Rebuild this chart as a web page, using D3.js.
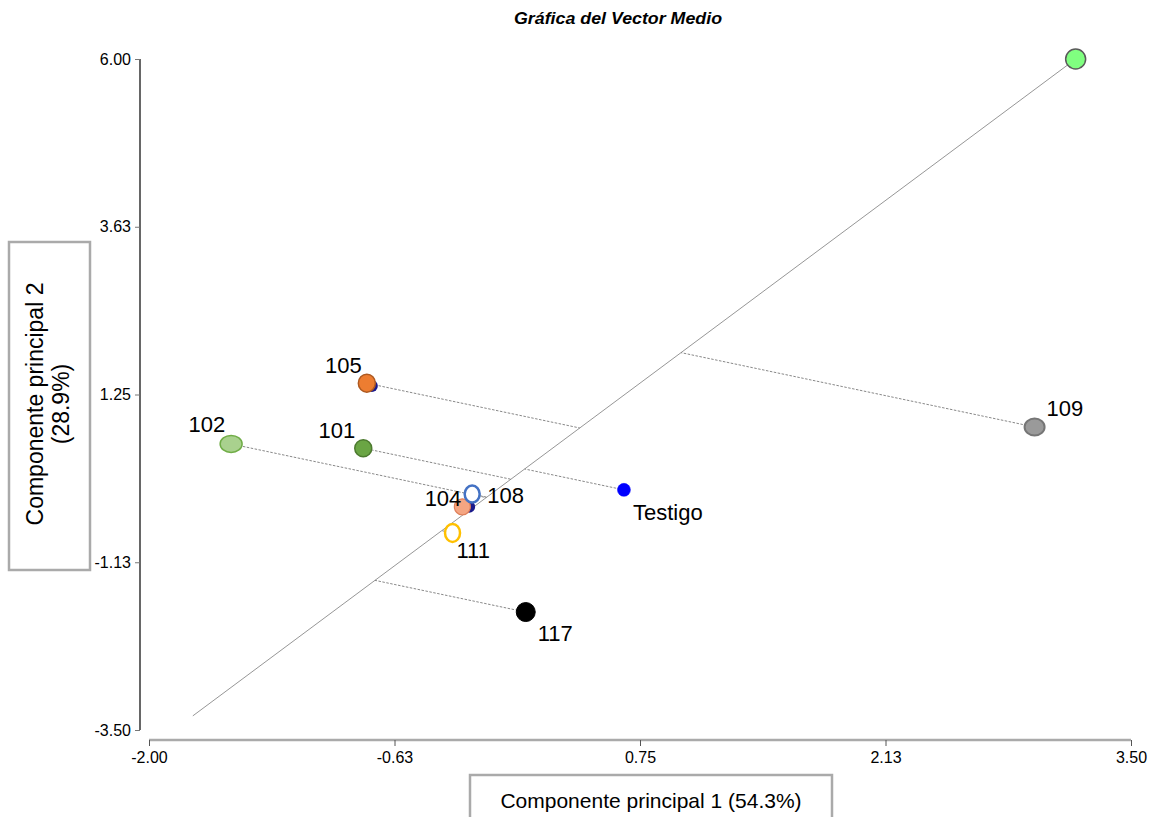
<!DOCTYPE html>
<html>
<head>
<meta charset="utf-8">
<script src="https://cdn.jsdelivr.net/npm/d3@7/dist/d3.min.js"></script>
<style>
  html, body { margin: 0; padding: 0; background: #fff; }
  svg { display: block; font-family: "Liberation Sans", Arial, sans-serif; }
</style>
</head>
<body>
<svg id="chart" width="1151" height="817"></svg>
<script>
// Genotipos y coordenadas en los dos primeros componentes principales
const genotipos = ["105", "102", "101", "104", "108", "Testigo", "111", "117", "109"];
const cp1 = [-0.78, -1.54, -0.80, -0.245, -0.19, 0.66, -0.30, 0.11, 2.96];
const cp2 = [1.41, 0.55, 0.49, -0.34, -0.16, -0.10, -0.71, -1.83, 0.79];

// Genotipos sin etiqueta, solapados con otros
const ocultosCp1 = [-0.752, -0.207];
const ocultosCp2 = [1.37, -0.34];

// Vector medio (extremo del eje)
const vectorMedio = [3.19, 6.00];
const extensionEje = -0.55;

// Ejes
const xDominio = [-2.00, 3.50];
const yDominio = [-3.50, 6.00];
const xTicks = [-2.00, -0.625, 0.75, 2.125, 3.50];
const xTickLabels = ["-2.00", "-0.63", "0.75", "2.13", "3.50"];
const yTicks = [-3.50, -1.125, 1.25, 3.625, 6.00];
const yTickLabels = ["-3.50", "-1.13", "1.25", "3.63", "6.00"];

// Estilo de cada marcador (mismo orden que genotipos)
const estilos = [
  { fill: "#ed7d31", stroke: "#ae5a21", sw: 1.5, rx: 8.5, ry: 9 },
  { fill: "#a9d18e", stroke: "#70ad47", sw: 1.5, rx: 11, ry: 8.5 },
  { fill: "#6aa544", stroke: "#4c7a2f", sw: 1.5, rx: 8.5, ry: 8.5 },
  { fill: "#f4a582", stroke: "#e0805a", sw: 1.2, rx: 8, ry: 8 },
  { fill: "#ffffff", stroke: "#4472c4", sw: 2.5, rx: 7.5, ry: 8.5 },
  { fill: "#0000ff", stroke: "#0000ff", sw: 0.5, rx: 6.5, ry: 6.5 },
  { fill: "#ffffff", stroke: "#ffc000", sw: 2.5, rx: 7.5, ry: 9 },
  { fill: "#000000", stroke: "#000000", sw: 1, rx: 9.5, ry: 9.5 },
  { fill: "#9a9a9a", stroke: "#767676", sw: 2, rx: 10, ry: 8.5 }
];
// Colocación de las etiquetas respecto al marcador
const etiquetas = [
  { dx: -5, dy: -10, anchor: "end" },
  { dx: -6, dy: -12, anchor: "end" },
  { dx: -8, dy: -10, anchor: "end" },
  { dx: -1, dy: -1, anchor: "end" },
  { dx: 15, dy: 9, anchor: "start" },
  { dx: 9, dy: 30, anchor: "start" },
  { dx: 4, dy: 25, anchor: "start" },
  { dx: 12, dy: 29, anchor: "start" },
  { dx: 12, dy: -11, anchor: "start" }
];

const svg = d3.select("#chart");
const x = d3.scaleLinear().domain(xDominio).range([149, 1131]);
const y = d3.scaleLinear().domain(yDominio).range([730, 59]);

// Título
svg.append("text")
  .attr("x", 618).attr("y", 24)
  .attr("text-anchor", "middle")
  .style("font-weight", "bold").style("font-style", "italic")
  .style("font-size", "16px")
  .attr("textLength", 208).attr("lengthAdjust", "spacingAndGlyphs")
  .text("Gráfica del Vector Medio");

// Eje Y
const yAxis = svg.append("g")
  .attr("transform", "translate(140,0)")
  .attr("font-size", 16)
  .call(d3.axisLeft(y).tickValues(yTicks).tickSize(5).tickPadding(4)
    .tickFormat((d, i) => yTickLabels[i]));
yAxis.attr("font-size", 16).attr("font-family", "Liberation Sans, Arial, sans-serif");
yAxis.select(".domain").attr("stroke", "#000").attr("stroke-width", 1.2)
  .attr("d", `M0,${y(6)}V${y(-3.5)}`);
yAxis.selectAll(".tick line").attr("stroke", "#777");
yAxis.selectAll(".tick text").attr("fill", "#000");

// Eje X
const xAxis = svg.append("g")
  .attr("transform", "translate(0,740)")
  .call(d3.axisBottom(x).tickValues(xTicks).tickSize(6).tickPadding(6)
    .tickFormat((d, i) => xTickLabels[i]));
xAxis.attr("font-size", 16).attr("font-family", "Liberation Sans, Arial, sans-serif");
xAxis.select(".domain").attr("stroke", "#aaa").attr("stroke-width", 2.5)
  .attr("d", `M${x(-2)},0H${x(3.5)}`);
xAxis.selectAll(".tick line").attr("stroke", "#555");
xAxis.selectAll(".tick text").attr("fill", "#000");

// Títulos de los ejes dentro de recuadros
svg.append("rect")
  .attr("x", 470).attr("y", 775).attr("width", 362).attr("height", 50)
  .attr("fill", "none").attr("stroke", "#aaa").attr("stroke-width", 2.5);
svg.append("text")
  .attr("x", 651).attr("y", 808)
  .attr("text-anchor", "middle").style("font-size", "21px")
  .text("Componente principal 1 (54.3%)");

svg.append("rect")
  .attr("x", 9).attr("y", 242).attr("width", 81).attr("height", 328)
  .attr("fill", "none").attr("stroke", "#aaa").attr("stroke-width", 2.5);
const yTitulo = svg.append("text")
  .attr("transform", "translate(0,404) rotate(-90)")
  .attr("text-anchor", "middle").style("font-size", "23px");
yTitulo.append("tspan").attr("x", 0).attr("y", 43).text("Componente principal 2");
yTitulo.append("tspan").attr("x", 0).attr("y", 69).text("(28.9%)");

// Eje del vector medio
const [vx, vy] = vectorMedio;
svg.append("line")
  .attr("x1", x(vx * extensionEje)).attr("y1", y(vy * extensionEje))
  .attr("x2", x(vx)).attr("y2", y(vy))
  .attr("stroke", "#8a8a8a").attr("stroke-width", 0.9);

// Proyecciones perpendiculares sobre el eje
const norma2 = vx * vx + vy * vy;
const puntos = genotipos.map((g, i) => ({ g, a: cp1[i], b: cp2[i], e: estilos[i], l: etiquetas[i] }));
puntos.forEach(p => {
  const t = (p.a * vx + p.b * vy) / norma2;
  svg.append("line")
    .attr("x1", x(p.a)).attr("y1", y(p.b))
    .attr("x2", x(t * vx)).attr("y2", y(t * vy))
    .attr("stroke", "#7a7a7a").attr("stroke-width", 0.9)
    .attr("stroke-dasharray", "2.5,1.5");
});

// Marcadores ocultos
ocultosCp1.forEach((a, i) => {
  svg.append("circle")
    .attr("cx", x(a)).attr("cy", y(ocultosCp2[i])).attr("r", 6)
    .attr("fill", "#1a1a8c");
});

// Vector medio
svg.append("circle")
  .attr("cx", x(vx)).attr("cy", y(vy)).attr("r", 10)
  .attr("fill", "#80ff80").attr("stroke", "#5a5a5a").attr("stroke-width", 1.5);

// Genotipos
puntos.forEach(p => {
  svg.append("ellipse")
    .attr("cx", x(p.a)).attr("cy", y(p.b))
    .attr("rx", p.e.rx).attr("ry", p.e.ry)
    .attr("fill", p.e.fill).attr("stroke", p.e.stroke).attr("stroke-width", p.e.sw);
});
puntos.forEach(p => {
  svg.append("text")
    .attr("x", x(p.a) + p.l.dx).attr("y", y(p.b) + p.l.dy)
    .attr("text-anchor", p.l.anchor)
    .style("font-size", "22px")
    .text(p.g);
});
</script>
</body>
</html>
